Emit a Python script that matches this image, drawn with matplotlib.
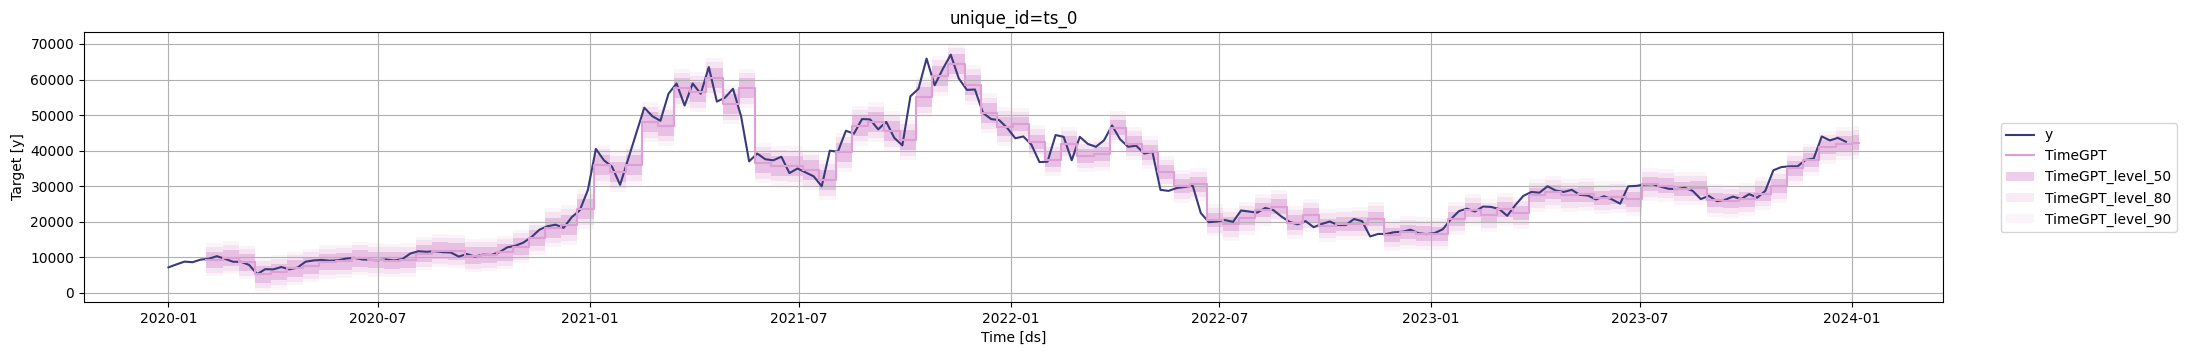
import matplotlib.pyplot as plt
import numpy as np
import pandas as pd

# weekly closes (starting 2020-01-01)
ds = pd.date_range('2020-01-01', periods=209, freq='7D')
y = [
    # 2020
    7200, 8050, 8820, 8660, 9380, 9610, 10350, 9600, 8790, 8760, 7900, 5300, 6700,
    6640, 7300, 6640, 7130, 8800, 9150, 9300, 9080, 9200, 9670, 9880, 9450, 9300,
    9230, 9430, 9130, 9540, 11100, 11750, 11580, 11750, 11470, 11400, 10240, 10950, 10240,
    10780, 10670, 11430, 12820, 13270, 14150, 15700, 17800, 18760, 19200, 18320, 21300, 23240,
    28900,
    # 2021
    40500, 37300, 35500, 30400, 37600, 44900, 52100, 49700, 48400, 56000, 58900, 52700, 58900,
    56000, 63500, 53800, 54900, 57400, 49700, 37000, 39200, 37600, 37300, 38300, 33700, 35000,
    33900, 32800, 30000, 40000, 39700, 45600, 44800, 48900, 48800, 46000, 48100, 43600, 41500,
    55300, 57400, 65900, 58400, 62900, 67000, 60300, 57100, 57200, 50600, 48900, 48600, 46400,
    # 2022
    43500, 44000, 41700, 36800, 36900, 44400, 43900, 37300, 43900, 41900, 41100, 42900, 47100,
    43200, 41100, 41400, 39200, 39700, 29000, 28700, 29500, 29800, 30200, 22500, 19900, 20100,
    20500, 20000, 23200, 22900, 22600, 23900, 23300, 21500, 20000, 19300, 20200, 18500, 19400,
    20100, 19100, 19100, 20800, 20200, 15900, 16600, 16600, 17100, 17200, 17800, 16800, 16550,
    # 2023
    16850, 17900, 20700, 23000, 23700, 22900, 24300, 24200, 23600, 21700, 24700, 27300, 28400,
    28200, 30000, 28800, 28400, 29000, 27600, 27400, 26300, 27200, 26300, 25100, 30000, 30100,
    30500, 30600, 29900, 29300, 29200, 29600, 28700, 26400, 27300, 25800, 26200, 27100, 26400,
    27800, 26800, 28700, 34500, 35400, 35600, 35600, 37400, 37800, 44000, 42900, 43600, 42500,
]

# TimeGPT cross-validation windows (14 days each), level of each window
win_start = pd.date_range('2020-02-03', periods=103, freq='14D')
timegpt = [
    9350, 9900, 8600, 5200, 5900, 6900, 7700, 8700, 8900, 9700,
    9300, 9100, 9300, 11100, 11900, 11700, 10500, 10750, 11400, 13050,
    15500, 18400, 19100, 23500, 36000, 34000, 36000, 48000, 47000, 57500,
    56500, 60500, 53000, 57500, 36500, 35800, 35600, 34500, 31800, 39500,
    47000, 48000, 45500, 43000, 55000, 61000, 64500, 58500, 50500, 46800,
    47500, 42500, 37500, 42000, 38500, 39000, 46500, 42000, 39500, 34000,
    30000, 30500, 20500, 19300, 21000, 23300, 24300, 19800, 21800, 18900,
    19400, 19500, 20900, 16300, 17100, 16700, 16600, 20900, 23300, 21800,
    23500, 22500, 27500, 28300, 27500, 27700, 26800, 27000, 26300, 30600,
    30200, 29300, 29400, 26100, 25800, 26300, 27900, 30000, 35000, 37400,
    41000, 42000, 42300,
]

# interval half widths, per period (first window index of each period)
era_first = [0, 21, 50]
half_50 = [2300, 2800, 2000]
half_80 = [3700, 4400, 3500]
half_90 = [4700, 5600, 4600]
levels = [50, 80, 90]

win_end = list(win_start[1:]) + [win_start[-1] + pd.Timedelta(days=6)]
era = np.searchsorted(era_first, np.arange(len(win_start)), side='right') - 1

fc_ds = []
fc = []
half = {50: [], 80: [], 90: []}
for k in range(len(win_start)):
    fc_ds += [win_start[k], win_end[k]]
    fc += [timegpt[k], timegpt[k]]
    for lv, hw in zip(levels, [half_50, half_80, half_90]):
        half[lv] += [hw[era[k]], hw[era[k]]]
fc = np.array(fc)

c_y = '#393b79'
c_m = '#de9ed6'

fig, ax = plt.subplots(figsize=(21.86, 3.55), dpi=100)
fig.subplots_adjust(left=0.0384, right=0.8889, top=0.9099, bottom=0.1493)

ax.plot(ds, y, color=c_y, label='y')
ax.plot(fc_ds, fc, color=c_m, label='TimeGPT')
for lv in levels:
    hw = np.array(half[lv])
    ax.fill_between(fc_ds, fc - hw, fc + hw, color=c_m, alpha=1 - lv / 100,
                    linewidth=0, label=f'TimeGPT_level_{lv}')

ax.set_ylim(-2530, 73370)
ax.set_title('unique_id=ts_0')
ax.set_xlabel('Time [ds]')
ax.set_ylabel('Target [y]')
ax.grid(True)

handles, labels = ax.get_legend_handles_labels()
fig.legend(handles, labels, loc='center left', bbox_to_anchor=(0.912, 0.5))

fig.savefig('out.png')
